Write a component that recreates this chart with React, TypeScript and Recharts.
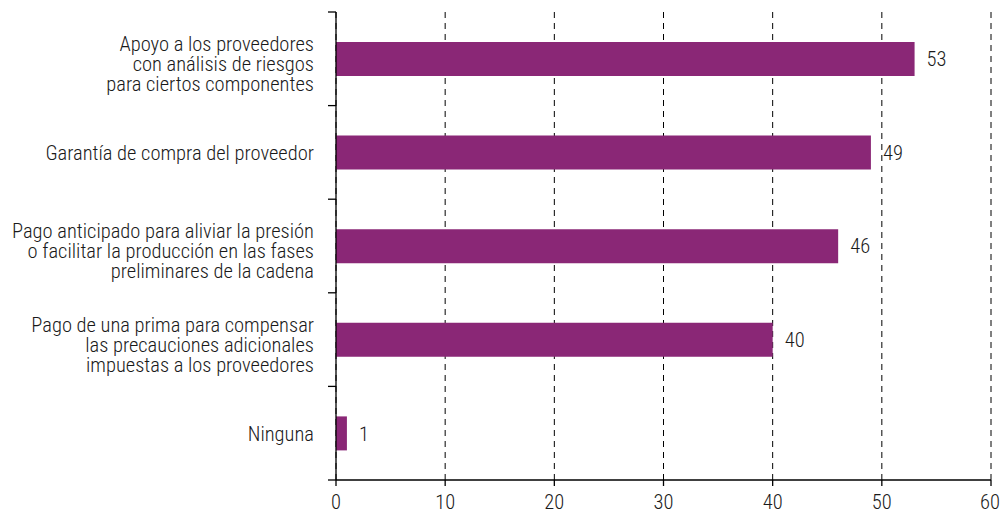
import React from "react"
import { BarChart, Bar, XAxis, YAxis, CartesianGrid, LabelList } from "recharts"

const categories = [
  ["Apoyo a los proveedores", "con análisis de riesgos", "para ciertos componentes"],
  ["Garantía de compra del proveedor"],
  ["Pago anticipado para aliviar la presión", "o facilitar la producción en las fases", "preliminares de la cadena"],
  ["Pago de una prima para compensar", "las precauciones adicionales", "impuestas a los proveedores"],
  ["Ninguna"],
]
const values = [53, 49, 46, 40, 1]
const xTicks = [0, 10, 20, 30, 40, 50, 60]

const FONT = "'Roboto Condensed', 'Liberation Sans Narrow', Roboto, sans-serif"
const TEXT = "#1a1a1a"
const BAR = "#8a2776"
const TOP = 12
const BOTTOM = 32
const H = 512
const BAND = (H - TOP - BOTTOM) / categories.length

const chartData = categories.map((lines, i) => ({
  name: String(i),
  value: values[i],
}))

const CategoryTick = (props: any) => {
  const { x, y, payload, index } = props
  const lines = categories[Number(payload.value)]
  const lh = 20
  const start = y - ((lines.length - 1) * lh) / 2 + (lines.length > 1 ? 12 : 8)
  return (
    <g>
      <line x1={x} x2={x + 8} y1={y - BAND / 2} y2={y - BAND / 2} stroke="#000" strokeWidth={1.3} />
      {index === categories.length - 1 && (
        <line x1={x} x2={x + 8} y1={y + BAND / 2} y2={y + BAND / 2} stroke="#000" strokeWidth={1.3} />
      )}
      <text x={x - 14} y={start} textAnchor="end" fontFamily={FONT} fontWeight={300} fontSize={20.5} fill={TEXT}>
        {lines.map((l, j) => (
          <tspan key={j} x={x - 14} y={start + j * lh}>
            {l}
          </tspan>
        ))}
      </text>
    </g>
  )
}

export default function App() {
  return (
    <div style={{ width: 1000, height: 512 }}>
      <style>{`body{margin:0}`}</style>
      <BarChart
        width={1000}
        height={512}
        data={chartData}
        layout="vertical"
        margin={{ top: TOP, right: 9, left: 0, bottom: 0 }}
        barSize={34}
      >
        <CartesianGrid horizontal={false} stroke="#000" strokeDasharray="6 5" strokeWidth={1} />
        <XAxis
          type="number"
          domain={[0, 60]}
          ticks={xTicks}
          height={BOTTOM}
          stroke="#000"
          strokeWidth={1.3}
          tickSize={6}
          tick={{ fontFamily: FONT, fontWeight: 300, fontSize: 20.5, fill: TEXT, dy: 6 }}
        />
        <YAxis
          type="category"
          dataKey="name"
          width={336}
          stroke="#000"
          strokeWidth={1.3}
          tickLine={false}
          tickSize={6}
          tickMargin={2}
          tick={<CategoryTick />}
          interval={0}
        />
        <Bar dataKey="value" fill={BAR} isAnimationActive={false}>
          <LabelList
            dataKey="value"
            position="right"
            offset={12}
            style={{ fontFamily: FONT, fontWeight: 300, fontSize: 20.5, fill: TEXT }}
          />
        </Bar>
      </BarChart>
    </div>
  )
}
